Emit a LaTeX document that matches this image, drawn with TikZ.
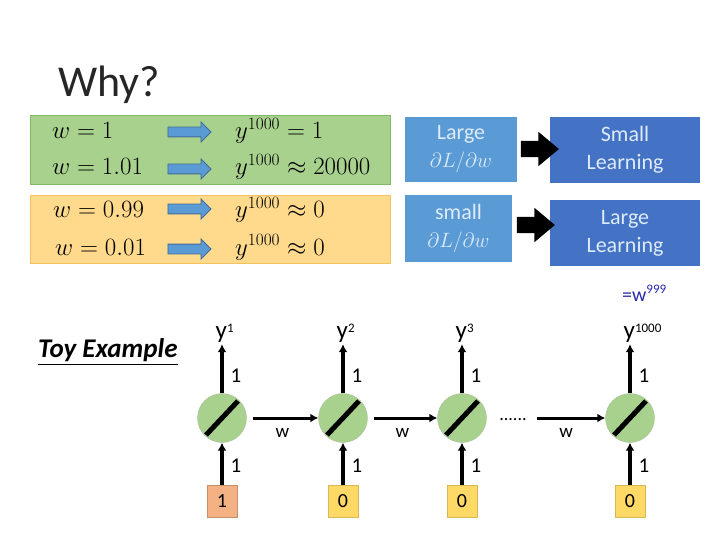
\documentclass[tikz,border=0pt]{standalone}
\usepackage{amsmath}
\usepackage{fontspec}
\setmainfont{Carlito}
\usetikzlibrary{positioning}
\usetikzlibrary{shapes.arrows,arrows.meta}

\definecolor{boxgreen}{RGB}{169,209,142}
\definecolor{boxgreenline}{RGB}{130,185,100}
\definecolor{boxorange}{RGB}{255,217,140}
\definecolor{boxorangeline}{RGB}{244,195,95}
\definecolor{arrowblue}{RGB}{91,155,213}
\definecolor{lightblue}{RGB}{91,155,213}
\definecolor{darkblue}{RGB}{68,114,196}
\definecolor{paletext}{RGB}{222,235,250}
\definecolor{cellgreen}{RGB}{169,209,142}
\definecolor{inred}{RGB}{244,177,131}
\definecolor{inyellow}{RGB}{255,217,102}
\definecolor{noteblue}{RGB}{40,40,170}

\newcommand{\supr}[2][6pt]{\raisebox{#1}{\fontsize{13}{13}\selectfont #2}}

\tikzset{
	rowtext/.style={anchor=base west, inner sep=0pt, font=\fontsize{23}{28}\selectfont},
	bluearrow/.style={single arrow, fill=arrowblue, draw=arrowblue!70!black, line width=0.8pt,
		minimum height=43pt, inner xsep=0pt, inner ysep=4.5pt, single arrow head extend=5pt},
	blackarrow/.style={single arrow, fill=black, minimum height=38pt, inner xsep=0pt, inner ysep=8pt,
		single arrow head extend=9pt, single arrow tip angle=80},
	gradbox/.style={fill=#1, text=paletext, align=center, inner sep=0pt,
		font=\fontsize{22}{28}\selectfont},
	neuron/.style={circle, minimum size=49pt, inner sep=0pt, fill=cellgreen, draw=cellgreen!80!black!70},
	slash/.style={line width=5pt},
	inbox/.style={minimum width=30pt, minimum height=32pt, inner sep=0pt, line width=0.8pt,
		font=\fontsize{20}{20}\selectfont},
	ylab/.style={anchor=base west, inner sep=0pt, font=\fontsize{25}{25}\selectfont},
	wire/.style={line width=3.3pt, -{Latex[length=8pt,width=9pt]}},
	num/.style={font=\fontsize{21}{21}\selectfont, inner sep=0pt},
	wlab/.style={font=\fontsize{19}{19}\selectfont, inner sep=0pt}
}

\begin{document}
\begin{tikzpicture}[x=1pt,y=-1pt]
		\useasboundingbox (0,0) rectangle (720,540);
		%\draw[gray,step=20] (0,0) grid (720,540);
		\node[anchor=base west, inner sep=0pt, text=black!85, font=\fontsize{44}{44}\selectfont] (why) at (58,97) {Why?};
		% the two coloured panels
		\node[fill=boxgreen, draw=boxgreenline, line width=1pt, minimum width=360pt, minimum height=69pt] (green) at (210,150.5) {};
		\node[fill=boxorange, draw=boxorangeline, line width=1pt, minimum width=360pt, minimum height=67pt] (orange) at (210,229.5) {};
		\node[rowtext] (w1) at (52,139) {$w=1$};
		\node[rowtext] (w2) at (52,175) {$w=1.01$};
		\node[rowtext] (w3) at (53,218) {$w=0.99$};
		\node[rowtext] (w4) at (55,255) {$w=0.01$};
		\node[bluearrow] (a1) at (187,132) {};
		\node[bluearrow] (a2) at (187,169) {};
		\node[bluearrow] (a3) at (187,209) {};
		\node[bluearrow] (a4) at (187,249) {};
		\node[rowtext] (r1) at (235,139) {$y^{1000}=1$};
		\node[rowtext] (r2) at (235,175) {$y^{1000}\approx 20000$};
		\node[rowtext] (r3) at (235,218) {$y^{1000}\approx 0$};
		\node[rowtext] (r4) at (235,255) {$y^{1000}\approx 0$};
		% gradient and learning boxes
		\node[gradbox=lightblue, minimum width=112pt, minimum height=65pt] (big) at (461,149.5) {Large\\$\partial L/\partial w$};
		\node[gradbox=lightblue, minimum width=107pt, minimum height=67pt] (tiny) at (458.5,228.5) {small\\$\partial L/\partial w$};
		\node[gradbox=darkblue, minimum width=150pt, minimum height=66pt] (slow) at (625,150) {Small\\Learning};
		\node[gradbox=darkblue, minimum width=150pt, minimum height=66pt] (fast) at (625,233) {Large\\Learning};
		\node[blackarrow] (b1) at (535,149) {};
		\node[blackarrow] (b2) at (531,225) {};
		% toy example
		\node[anchor=base west, inner sep=0pt, font=\fontsize{27}{27}\selectfont] (toy) at (38,357) {\underline{\textbf{\textit{Toy Example}}}};
		\node[anchor=base west, inner sep=0pt, text=noteblue, font=\fontsize{20}{20}\selectfont] (note) at (622,301) {=w\supr[8pt]{999}};
		\node[neuron] (n1) at (222,418) {};
		\node[neuron] (n2) at (343,418) {};
		\node[neuron] (n3) at (462,418) {};
		\node[neuron] (n4) at (630,418) {};
		\draw[slash] (206,435) -- (238,401);
		\draw[slash] (327,435) -- (359,401);
		\draw[slash] (446,435) -- (478,401);
		\draw[slash] (614,435) -- (646,401);
		\node[inbox, fill=inred, draw=inred!80!black] (x1) at (222,501) {1};
		\node[inbox, fill=inyellow, draw=inyellow!85!black] (x2) at (343,501) {0};
		\node[inbox, fill=inyellow, draw=inyellow!85!black] (x3) at (462,501) {0};
		\node[inbox, fill=inyellow, draw=inyellow!85!black] (x4) at (630,501) {0};
		\node[ylab] (y1) at (215.5,338) {y\supr{1}};
		\node[ylab] (y2) at (336.5,338) {y\supr{2}};
		\node[ylab] (y3) at (455.5,338) {y\supr{3}};
		\node[ylab] (y4) at (623.5,338) {y\supr{1000}};
		% vertical connections
		\draw[wire, shorten >=2pt] (n1.north) -- (n1.north |- y1.south) node[num, pos=0.35, right=7pt]{1};
		\draw[wire, shorten >=2pt] (n2.north) -- (n2.north |- y2.south) node[num, pos=0.35, right=7pt]{1};
		\draw[wire, shorten >=2pt] (n3.north) -- (n3.north |- y3.south) node[num, pos=0.35, right=7pt]{1};
		\draw[wire, shorten >=2pt] (n4.north) -- (n4.north |- y4.south) node[num, pos=0.35, right=7pt]{1};
		\draw[wire] (x1.north) -- (n1.south) node[num, pos=0.45, right=7pt]{1};
		\draw[wire] (x2.north) -- (n2.south) node[num, pos=0.45, right=7pt]{1};
		\draw[wire] (x3.north) -- (n3.south) node[num, pos=0.45, right=7pt]{1};
		\draw[wire] (x4.north) -- (n4.south) node[num, pos=0.45, right=7pt]{1};
		% recurrent connections
		\node[anchor=base, inner sep=0pt, font=\fontsize{18}{18}\selectfont] (dots) at (513,420) {......};
		\draw[wire, line width=3pt, shorten <=6pt] (n1.east) -- (n2.west) node[wlab, midway, below=9pt]{w};
		\draw[wire, line width=3pt, shorten <=6pt] (n2.east) -- (n3.west) node[wlab, midway, below=9pt]{w};
		\draw[wire, line width=3pt, shorten <=10pt] (dots.east |- n4.west) -- (n4.west) node[wlab, midway, below=9pt]{w};
	\end{tikzpicture}
\end{document}
